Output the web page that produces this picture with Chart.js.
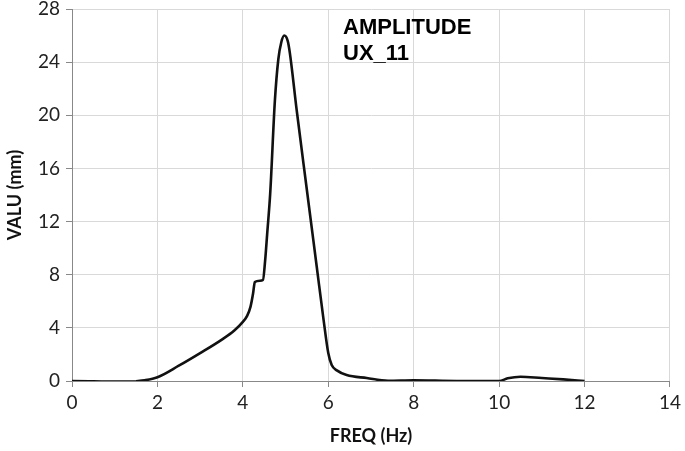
<!DOCTYPE html>
<html>
<head>
<meta charset="utf-8">
<script src="https://cdn.jsdelivr.net/npm/chart.js@4"></script>
<style>
  html, body { margin: 0; padding: 0; background: #fff; }
</style>
</head>
<body>
<canvas id="ampChart" width="685" height="451"></canvas>
<script>
// frequency (Hz) and amplitude (mm)
const freq = [0, 0.5, 1, 1.5, 1.7, 2, 2.5, 3, 3.5, 3.8, 4, 4.1, 4.18, 4.24, 4.28, 4.4, 4.47, 4.52, 4.57, 4.64, 4.75, 4.83, 4.9, 4.97, 5.05, 5.1, 5.26, 5.49, 5.73, 5.89, 6.0, 6.08, 6.2, 6.43, 6.9, 7.4, 8, 9, 10, 10.2, 10.5, 11, 11.5, 12];
const amp = [0, -0.02, -0.05, -0.02, 0.05, 0.28, 1.15, 2.1, 3.1, 3.8, 4.45, 4.9, 5.6, 6.6, 7.45, 7.55, 7.6, 9.0, 11.1, 14.1, 21.1, 24.2, 25.5, 26.0, 25.6, 24.7, 20.4, 14.6, 8.6, 4.6, 2.1, 1.2, 0.8, 0.45, 0.22, 0.02, 0.06, 0, 0, 0.2, 0.32, 0.22, 0.12, 0];

const xTicks = [0, 2, 4, 6, 8, 10, 12, 14];
const yTicks = [0, 4, 8, 12, 16, 20, 24, 28];
const titleLines = ['AMPLITUDE', 'UX_11'];

const points = freq.map((f, i) => ({ x: f, y: amp[i] }));

// title text inside the plot, top right of the peak
const plotTitle = {
  id: 'plotTitle',
  afterDraw(chart) {
    const { ctx, chartArea } = chart;
    ctx.save();
    ctx.font = 'bold 22px "Liberation Sans", Arial, sans-serif';
    ctx.fillStyle = '#000';
    ctx.textAlign = 'left';
    ctx.textBaseline = 'alphabetic';
    titleLines.forEach((t, i) => {
      ctx.fillText(t, chartArea.left + 271, chartArea.top + 25 + i * 26);
    });
    ctx.restore();
  }
};

const tickFont = { family: 'Lato, sans-serif', size: 19 };
const axisTitleFont = { family: 'Lato, sans-serif', size: 18, weight: 'bold' };

new Chart(document.getElementById('ampChart'), {
  type: 'line',
  data: {
    datasets: [{
      data: points,
      borderColor: '#111',
      borderWidth: 2.6,
      pointRadius: 0,
      fill: false,
      cubicInterpolationMode: 'monotone'
    }]
  },
  plugins: [plotTitle],
  options: {
    responsive: false,
    animation: false,
    layout: { padding: { top: 0, right: 14, left: 0, bottom: 0 } },
    plugins: {
      legend: { display: false },
      tooltip: { enabled: false }
    },
    scales: {
      x: {
        type: 'linear',
        min: 0,
        max: 14,
        afterBuildTicks(scale) { scale.ticks = xTicks.map(v => ({ value: v })); },
        afterFit(scale) { scale.height = 70; },
        grid: { color: '#d9d9d9', tickColor: '#888', tickLength: 6, lineWidth: 1 },
        border: { color: '#888', width: 1 },
        ticks: { font: tickFont, color: '#222', padding: 4, maxRotation: 0 },
        title: { display: true, text: 'FREQ (Hz)', font: axisTitleFont, color: '#111', padding: { top: 6 } }
      },
      y: {
        min: 0,
        max: 28,
        afterBuildTicks(scale) { scale.ticks = yTicks.map(v => ({ value: v })); },
        afterFit(scale) { scale.width = 72; scale.paddingTop = 9; },
        grid: { color: '#d9d9d9', tickColor: '#888', tickLength: 6, lineWidth: 1 },
        border: { color: '#888', width: 1 },
        ticks: { font: tickFont, color: '#222', padding: 6 },
        title: { display: true, text: 'VALU (mm)', font: axisTitleFont, color: '#111', padding: { bottom: 2 } }
      }
    }
  }
});
</script>
</body>
</html>
